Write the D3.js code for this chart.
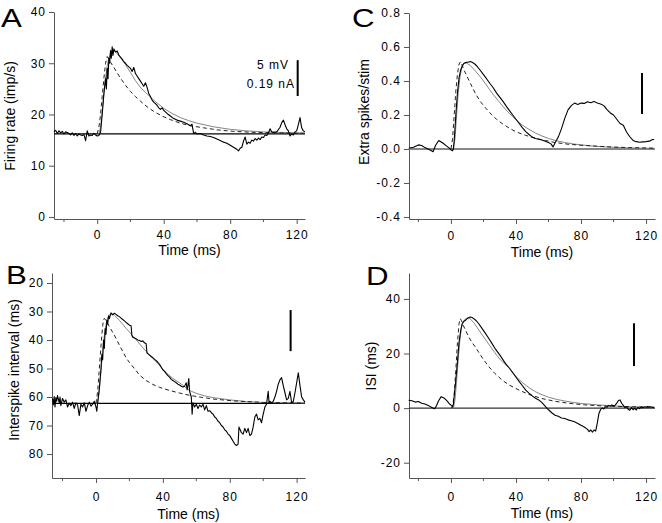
<!DOCTYPE html>
<html><head><meta charset="utf-8">
<script src="https://cdn.jsdelivr.net/npm/d3@7"></script>
<style>
body{margin:0;background:#fff}
svg text{font-family:"Liberation Sans",Arial,Helvetica,sans-serif;fill:#000}
</style></head><body>
<svg id="chart" width="662" height="523"></svg>
<script>
// ---------- shared axis data ----------
const timeTicks = [0, 40, 80, 120];
const timeMinorTicks = [-20, 20, 60, 100];
const aTicks = [0, 10, 20, 30, 40];
const bTicks = [20, 30, 40, 50, 60, 70, 80];
const cTicks = [-0.4, -0.2, 0.0, 0.2, 0.4, 0.6, 0.8];
const dTicks = [-20, 0, 20, 40];

// ---------- panel A: firing rate (imp/s) ----------
const aBaseline = 16.2;
const aData = [[-26,16.6],[-25,16.9],[-24,16.3],[-23,16.8],[-22,16.4],[-21,16.7],[-20,16.2],[-19,16.6],[-18,16.5],[-17,16.3],[-16,16.0],[-15,16.4],[-14,15.9],[-13,16.3],[-12,15.8],[-11,16.2],[-10,16.0],[-9,15.9],[-8,16.1],[-7,14.9],[-6,16.8],[-5,15.8],[-4,16.0],[-3,15.9],[-2,16.3],[-1,16.0],[0,15.8],[1,15.9],[2,16.5],[3,20],[4,24],[5,27],[5.5,25],[6,29],[6.5,27],[7,31],[7.5,30],[8,32.5],[8.5,31],[9,33.2],[9.5,31.5],[10,32.8],[11,32.2],[12,32.4],[13,31.6],[14,31.2],[15,30.8],[16,30.3],[17,30.0],[18,29.6],[19,29.3],[20,29.0],[21,28.4],[22,29.2],[23,28.0],[24,27.5],[25,27.0],[26,26.5],[27,26.0],[28,25.5],[29,26.2],[30,25.3],[31,24.1],[32,23.5],[33,22.8],[34,22.4],[35,22.1],[36,21.8],[37,21.3],[38,21.0],[39,21.3],[40,20.8],[42,20.2],[44,19.7],[46,19.2],[48,18.9],[50,18.7],[52,18.5],[54,18.2],[56,17.8],[57,18.1],[58,16.3],[59,16.5],[60,16.2],[62,16.3],[64,16.0],[66,15.8],[68,15.7],[70,15.5],[72,15.2],[74,14.9],[76,14.6],[78,14.4],[80,14.0],[82,13.6],[84,13.2],[85,12.9],[86,13.4],[87,13.6],[88,14.8],[89,15.6],[90,14.2],[91,14.6],[92,14.4],[93,15.0],[94,14.8],[95,15.3],[96,15.0],[97,15.4],[98,15.1],[99,15.6],[100,15.5],[101,16.0],[102,15.9],[103,16.4],[104,17.2],[105,16.6],[106,16.5],[108,16.6],[110,17.5],[111,18.4],[112,18.9],[113,18.0],[114,17.2],[115,16.8],[116,15.8],[117,16.2],[118,16.0],[119,16.6],[120,16.8],[121,18.0],[122,19.4],[123,17.4],[124,16.8],[125,16.6]];
const aFit = [[0,16.2],[1,16.2],[2,17.5],[3,20.5],[4,24],[5,27],[6,29.5],[7,31],[8,31.9],[9,32.3],[10,32.4],[11,32.2],[12,31.9],[14,31.1],[16,30.2],[18,29.2],[20,28.2],[23,26.6],[26,25.3],[30,24.0],[35,22.5],[40,21.2],[45,20.2],[50,19.4],[55,18.8],[60,18.3],[70,17.6],[80,17.1],[90,16.8],[100,16.6],[110,16.5],[125,16.4]];
const aModel = [[0,16.2],[1,17.5],[2,20],[3,23.5],[4,27],[5,30],[6,31.3],[7,30.8],[8,30.2],[10,29.2],[12,28.1],[14,27.1],[17,25.7],[20,24.5],[23,23.5],[26,22.6],[30,21.5],[34,20.6],[39,19.7],[44,19.0],[50,18.3],[56,17.8],[64,17.4],[72,17.0],[82,16.7],[95,16.5],[110,16.4],[125,16.3]];
const aScaleBar = [120.6, 23.6, 30.6];

// ---------- panel B: interspike interval (ms) ----------
const bBaseline = 62.2;
const bData = [[-26,60.5],[-25.5,62.8],[-25,59.8],[-24.5,63.5],[-24,60.2],[-23.5,61.5],[-23,59.5],[-22,62.0],[-21.5,60.0],[-21,63.0],[-20,60.5],[-19,61.8],[-18,61.0],[-17,63.5],[-16,62.2],[-15,63.0],[-14,61.8],[-13,64.0],[-12,62.0],[-11,62.8],[-10,66.5],[-9,62.5],[-8,63.5],[-7,62.0],[-6,65.0],[-5,63.0],[-4,61.8],[-3,63.2],[-2,62.5],[-1,61.5],[0,63.5],[0.5,65.0],[1,62.0],[2,57],[3,50],[3.5,45],[4,47],[4.5,40],[5,43],[5.5,36],[6,38],[6.5,33],[7,34.5],[7.5,31.5],[8,32.5],[9,30.5],[10,31.2],[11,30.6],[12,31.0],[13,31.5],[14,31.8],[15,32.3],[16,32.8],[17,33.3],[18,33.8],[19,34.3],[20,34.8],[21,35.0],[21.5,38.5],[22,39.0],[23,39.3],[24,39.6],[25,40.0],[26,40.2],[27,40.5],[28,40.3],[29,41.0],[30,41.3],[30.5,44.5],[31,44.8],[32,45.3],[33,45.8],[34,46.2],[35,46.8],[36,47.2],[37,47.8],[38,48.5],[39,49.5],[40,50.5],[41,51.0],[42,51.8],[43,52.5],[44,53.0],[45,53.8],[46,54.2],[47,54.6],[48,55.0],[49,55.5],[50,55.8],[51,56.2],[52,56.5],[53,56.2],[54,55.0],[54.5,57.5],[55,56.0],[55.5,53.5],[56,58.0],[57,60.0],[57.5,66.0],[58,62.0],[59,63.5],[60,62.5],[61,64.0],[62,62.8],[63,63.5],[64,62.5],[65,64.5],[66,63.0],[67,65.0],[68,64.8],[69,65.5],[70,66.0],[71,67.0],[72,67.5],[73,68.5],[74,69.0],[75,70.0],[76,70.5],[77,71.5],[78,72.0],[79,73.0],[80,73.5],[81,74.5],[82,75.5],[83,76.5],[84,77.0],[85,76.5],[85.5,70.5],[87,72.5],[88,73.0],[89,71.0],[90,72.5],[91,71.0],[92,73.5],[93,73.0],[94,70.5],[95,67.0],[96,66.0],[97,68.0],[98,67.5],[99,69.0],[100,66.0],[101,63.5],[102,62.5],[103,58.0],[103.5,62.0],[104,61.5],[105,62.0],[106,61.5],[107,60.0],[108,58.0],[109,55.5],[110,54.0],[111,53.2],[112,56.0],[113,58.5],[114,61.0],[115,60.5],[116,58.0],[117,62.0],[118,61.5],[119,58.5],[120,55.0],[121,51.5],[122,56.0],[123,60.0],[124,61.0],[125,61.8]];
const bFit = [[0,62.2],[1,62.2],[2,58],[3,51],[4,44],[5,38.5],[6,34.5],[7,32.3],[8,31.2],[9,30.8],[10,30.9],[11,31.3],[12,31.9],[14,33.1],[16,34.5],[18,35.9],[20,37.2],[22,38.6],[25,40.6],[28,42.7],[31,44.6],[34,46.4],[37,48.3],[40,50.3],[43,52.0],[46,53.5],[50,55.0],[55,57.3],[57,58.0],[60,58.7],[65,59.6],[70,60.2],[75,60.6],[80,61.0],[90,61.6],[100,61.9],[110,62.0],[125,62.1]];
const bModel = [[0,62.2],[1,58],[2,50],[3,42],[4,35],[4.5,33],[5,32.4],[6,33.2],[7,34.2],[8,35.3],[10,37.3],[12,39.4],[14,41.8],[16,44],[18,46.2],[20,47.9],[23,50.0],[26,52.3],[30,54.2],[34,55.6],[38,56.6],[44,57.7],[50,58.6],[56,59.4],[63,60.1],[70,60.7],[83,61.4],[100,61.9],[125,62.1]];
const bScaleBar = [116.4, 29.5, 43.9];

// ---------- panel C: extra spikes/stim ----------
const cBaseline = 0;
const cData = [[-26,0.004],[-23,0.01],[-20,0.024],[-18,0.02],[-16,0.008],[-14,0.0],[-12,-0.01],[-11,-0.016],[-9.5,0.02],[-7.5,0.05],[-5,0.035],[-3,0.02],[-1,0.005],[0,-0.006],[1,-0.01],[1.5,0.0],[2,0.05],[3,0.2],[4,0.33],[5,0.42],[6,0.465],[7,0.49],[8,0.504],[9,0.508],[10,0.51],[11,0.512],[12,0.514],[13,0.51],[14,0.505],[15,0.497],[16,0.487],[17,0.475],[18,0.463],[20,0.437],[22,0.412],[24,0.385],[26,0.36],[28,0.33],[30,0.305],[32,0.28],[34,0.252],[36,0.226],[38,0.2],[40,0.175],[42,0.15],[44,0.124],[46,0.102],[48,0.085],[50,0.07],[52,0.062],[54,0.057],[56,0.053],[58,0.045],[60,0.038],[61.5,0.03],[62.8,0.012],[64,0.035],[66,0.07],[68,0.12],[70,0.18],[72,0.23],[74,0.255],[76,0.27],[78,0.262],[80,0.27],[82,0.268],[84,0.278],[86,0.272],[88,0.28],[90,0.27],[92,0.265],[94,0.255],[96,0.232],[98,0.212],[100,0.2],[102,0.175],[104,0.15],[106,0.14],[108,0.1],[110,0.072],[112,0.05],[114,0.043],[116,0.04],[118,0.042],[120,0.043],[122,0.046],[124,0.056],[125,0.056]];
const cFit = [[0,0],[1.5,0],[2.5,0.06],[3.5,0.2],[4.5,0.33],[5.5,0.42],[6.5,0.47],[7.5,0.495],[8.5,0.505],[9.5,0.506],[10.5,0.5],[12,0.49],[14,0.47],[16,0.448],[18,0.425],[20,0.4],[23,0.36],[26,0.32],[29,0.285],[32,0.25],[35,0.218],[38,0.19],[41,0.163],[44,0.14],[48,0.115],[52,0.094],[56,0.076],[60,0.062],[65,0.048],[70,0.038],[75,0.03],[80,0.024],[90,0.015],[100,0.01],[110,0.006],[125,0.003]];
const cModel = [[0,0],[1,0.06],[2,0.2],[3,0.34],[4,0.44],[5,0.5],[6,0.514],[7,0.49],[8,0.465],[10,0.425],[12,0.385],[15,0.327],[18,0.28],[21,0.245],[24,0.212],[28,0.175],[32,0.146],[36,0.122],[40,0.101],[46,0.08],[52,0.063],[58,0.05],[64,0.038],[72,0.028],[80,0.022],[90,0.016],[100,0.011],[110,0.008],[125,0.005]];
const cScaleBar = [117.5, 0.206, 0.447];

// ---------- panel D: ISI (ms) ----------
const dBaseline = 0;
const dData = [[-26,2.9],[-24,2.7],[-22,2.2],[-20,2.4],[-18,1.8],[-16,1.5],[-14,1.0],[-12,0.3],[-11,0.0],[-10,-0.2],[-9,0.8],[-7.5,2.8],[-6,4.2],[-5,3.9],[-4,3.6],[-3,3.0],[-2,2.4],[-1,1.6],[0,1.1],[1,0.5],[1.5,1.5],[2.8,9.1],[4,17],[4.9,23.7],[6,28.5],[6.9,31],[8,31.8],[9,32.2],[10,32.8],[11,33.2],[12,33.4],[13,33.2],[14,32.8],[15.2,32.2],[17,31.0],[19,29.3],[21.3,27.3],[23,25.8],[25,23.9],[27.5,21.5],[30,19.5],[33.6,16.3],[36,14.6],[39.8,11.5],[42,9.7],[44,8.2],[46,6.6],[48,5.5],[50,4.5],[52,3.6],[54,3.0],[56,2.0],[58.3,0.5],[60,-0.6],[62,-1.7],[64,-2.6],[66,-3.0],[68,-3.6],[70,-3.8],[72,-4.3],[74,-4.6],[76,-5.0],[78,-5.6],[80,-6.3],[82,-6.9],[84,-7.8],[85,-8.6],[86,-8.0],[87,-8.8],[88,-8.0],[89,-8.4],[90,-5.5],[91,-2.0],[92,-0.6],[93,0.1],[94,-0.3],[95,0.5],[96,0.3],[97,1.0],[98,0.7],[99,1.2],[100,0.8],[101,1.1],[102,1.8],[103,2.8],[104,3.0],[105,1.8],[106,1.0],[107,0.2],[108,0.5],[109,-0.4],[110,-0.8],[111,0.2],[112,-0.6],[113,0.0],[114,-0.7],[115,0.3],[116,-0.2],[117,0.4],[118,0.1],[119,0.5],[120,0.3],[121,0.6],[122,0.4],[123,0.5],[124,0.2],[125,0.3]];
const dFit = [[0,0],[1.5,0],[2.5,3],[3.5,10],[4.5,18],[5.5,25],[6.5,29.5],[7.5,31.5],[8.5,32.5],[10,33],[11,33],[12,32.6],[14,31.3],[16,29.6],[18,27.9],[21,25.3],[24,22.8],[27,20.3],[30,18.0],[33,16.2],[36,14.6],[40,11.6],[44,9.3],[48,7.5],[52,6.0],[56,4.9],[60,4.0],[65,3.2],[70,2.6],[75,2.1],[80,1.7],[90,1.2],[100,0.8],[110,0.5],[125,0.3]];
const dModel = [[0,0],[1,0.3],[2,5],[3,14],[4,24],[5,31],[5.7,32.8],[6.5,32.0],[7.5,30.4],[9,28.5],[11,26.0],[13,24.0],[15.2,22.2],[18,19.6],[20,17.8],[23.4,15.1],[27,12.7],[31.6,10.2],[36,8.4],[41.9,6.6],[48,5.0],[56,3.5],[64,2.5],[72,1.8],[82,1.2],[93,0.8],[110,0.5],[125,0.3]];
const dScaleBar = [112.6, 15.4, 31.1];

// ---------- drawing ----------
const svg = d3.select("#chart");
const hy = v => (v < 0 ? "-" : "") + Math.abs(v);
const hy1 = v => (v < 0 ? "-" : "") + Math.abs(v).toFixed(1);

function panel(cfg) {
  const x = d3.scaleLinear().domain(cfg.xDomain).range(cfg.xRange);
  const y = d3.scaleLinear().domain(cfg.yDomain).range(cfg.yRange);
  const g = svg.append("g");
  const axisColor = "#555";

  const gy = g.append("g").attr("transform", `translate(${cfg.xRange[0]},0)`)
    .call(d3.axisLeft(y).tickValues(cfg.yTicks).tickSize(5).tickSizeOuter(0).tickFormat(cfg.fmt));
  const gx = g.append("g").attr("transform", `translate(0,${cfg.yRange[0]})`)
    .call(d3.axisBottom(x).tickValues(timeTicks).tickSize(5).tickSizeOuter(0).tickFormat(d3.format("d")));
  gx.selectAll(".minor").data(timeMinorTicks).join("line").attr("class", "minor")
    .attr("x1", d => x(d)).attr("x2", d => x(d)).attr("y1", 0).attr("y2", 3);
  [gx, gy].forEach(a => {
    a.select(".domain").attr("stroke", axisColor);
    a.selectAll("line").attr("stroke", axisColor);
    a.selectAll("text").attr("font-size", 12).attr("letter-spacing", "1px")
      .attr("font-family", '"Liberation Sans", Arial, sans-serif').attr("fill", "#000");
  });
  gy.selectAll("text").attr("x", -8);
  gx.selectAll("text").attr("y", cfg.xLabelY).attr("dy", 0);

  // baseline
  g.append("line").attr("x1", cfg.xRange[0]).attr("x2", cfg.xRange[1])
    .attr("y1", y(cfg.baseline)).attr("y2", y(cfg.baseline))
    .attr("stroke", cfg.baseColor).attr("stroke-width", cfg.baseWidth);

  const line = d3.line().x(d => x(d[0])).y(d => y(d[1]));
  g.append("path").datum(cfg.fit).attr("d", line).attr("fill", "none")
    .attr("stroke", "#777").attr("stroke-width", 0.9);
  g.append("path").datum(cfg.model).attr("d", line).attr("fill", "none")
    .attr("stroke", "#222").attr("stroke-width", 1).attr("stroke-dasharray", "4,3");
  g.append("path").datum(cfg.data).attr("d", line).attr("fill", "none")
    .attr("stroke", "#000").attr("stroke-width", 1.1).attr("stroke-linejoin", "round");

  // scale bar
  const sb = cfg.scaleBar;
  g.append("line").attr("x1", x(sb[0])).attr("x2", x(sb[0]))
    .attr("y1", y(sb[1])).attr("y2", y(sb[2])).attr("stroke", "#000").attr("stroke-width", 2);

  // titles
  g.append("text").attr("x", (cfg.xRange[0] + cfg.xRange[1]) / 2 + cfg.xTitleDx)
    .attr("y", cfg.yRange[0] + cfg.xTitleY).attr("text-anchor", "middle")
    .attr("font-size", 14).text("Time (ms)");
  g.append("text").attr("transform", `translate(${cfg.yTitleX},${cfg.yTitleCy}) rotate(-90)`)
    .attr("text-anchor", "middle").attr("font-size", 14).text(cfg.yTitle);
  g.append("text").attr("transform", `translate(${cfg.letterX},${cfg.letterY}) scale(1.25,1)`)
    .attr("font-size", 25).text(cfg.letter);
  return {x, y, g};
}

const pA = panel({letter: "A", letterX: 1, letterY: 27, xDomain: [-26, 125], xRange: [54, 305],
  yDomain: [-0.4, 40], yRange: [219, 12], yTicks: aTicks, fmt: d3.format("d"),
  baseline: aBaseline, baseColor: "#000", baseWidth: 1.2, data: aData, fit: aFit, model: aModel,
  scaleBar: aScaleBar, xLabelY: 20, xTitleY: 36, xTitleDx: 10, yTitle: "Firing rate (imp/s)",
  yTitleX: 15, yTitleCy: 116});
pA.g.append("text").attr("x", 289).attr("y", 69).attr("text-anchor", "end").attr("font-size", 12)
  .attr("letter-spacing", "1px").text("5 mV");
pA.g.append("text").attr("x", 295).attr("y", 88).attr("text-anchor", "end").attr("font-size", 12)
  .attr("letter-spacing", "1px").text("0.19 nA");

panel({letter: "B", letterX: 6, letterY: 284, xDomain: [-26.3, 125], xRange: [52, 305],
  yDomain: [88.4, 16.5], yRange: [478, 273], yTicks: bTicks, fmt: d3.format("d"),
  baseline: bBaseline, baseColor: "#000", baseWidth: 1.2, data: bData, fit: bFit, model: bModel,
  scaleBar: bScaleBar, xLabelY: 23, xTitleY: 41, xTitleDx: 10, yTitle: "Interspike interval (ms)",
  yTitleX: 19, yTitleCy: 370});

panel({letter: "C", letterX: 352, letterY: 27, xDomain: [-25.8, 125.5], xRange: [409, 655],
  yDomain: [-0.412, 0.8], yRange: [219, 13], yTicks: cTicks, fmt: hy1,
  baseline: cBaseline, baseColor: "#888", baseWidth: 2, data: cData, fit: cFit, model: cModel,
  scaleBar: cScaleBar, xLabelY: 21, xTitleY: 38, xTitleDx: 10, yTitle: "Extra spikes/stim",
  yTitleX: 369, yTitleCy: 112});

panel({letter: "D", letterX: 366, letterY: 285, xDomain: [-25.8, 125.5], xRange: [409, 655],
  yDomain: [-25.6, 49.5], yRange: [478, 273], yTicks: dTicks, fmt: hy,
  baseline: dBaseline, baseColor: "#333", baseWidth: 1.2, data: dData, fit: dFit, model: dModel,
  scaleBar: dScaleBar, xLabelY: 23, xTitleY: 40, xTitleDx: 10, yTitle: "ISI (ms)",
  yTitleX: 376, yTitleCy: 366});
</script></body></html>
